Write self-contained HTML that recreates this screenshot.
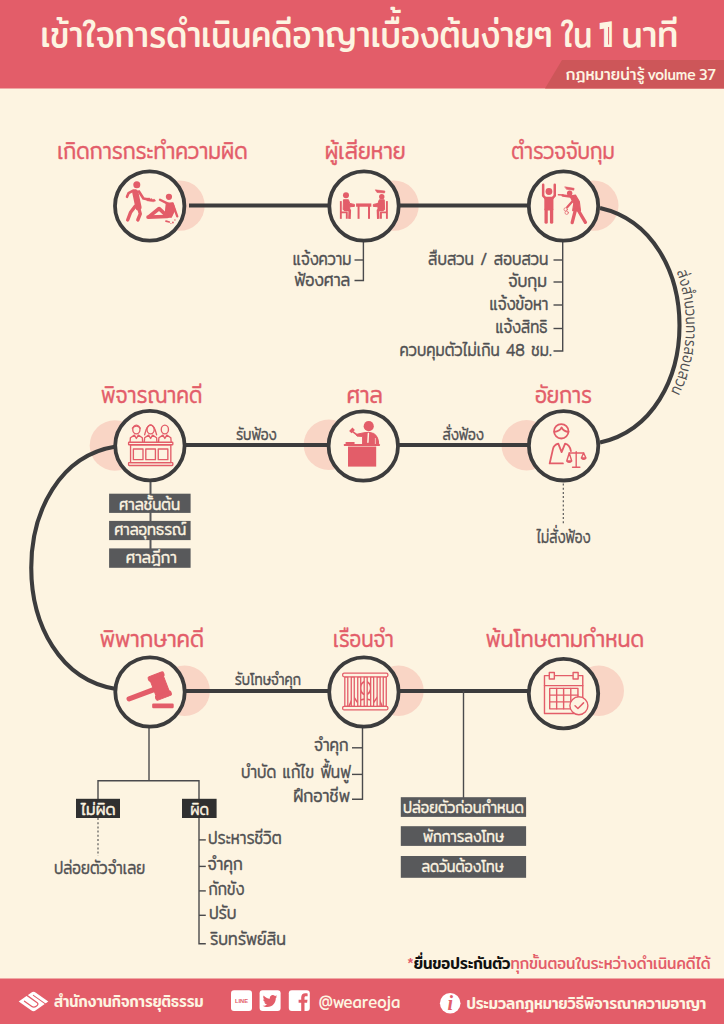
<!DOCTYPE html>
<html lang="th"><head><meta charset="utf-8"><title>เข้าใจการดำเนินคดีอาญาเบื้องต้นง่ายๆ ใน 1 นาที</title>
<style>html,body{margin:0;padding:0;background:#FDF4E1}body{width:724px;height:1024px;overflow:hidden;font-family:Mitr, Kanit, Prompt, 'Liberation Sans', 'Noto Sans Thai', sans-serif}svg{display:block}text{font-family:Mitr, Kanit, Prompt, 'Liberation Sans', 'Noto Sans Thai', sans-serif}</style>
</head><body>
<svg width="724" height="1024" viewBox="0 0 724 1024">
<rect width="724" height="1024" fill="#FDF4E1"/>
<rect width="724" height="88.5" fill="#E35D69"/>
<polygon points="562,60 724,60 724,88.5 545,88.5" fill="#CD5659"/>
<rect y="978.5" width="724" height="46" fill="#E35D69"/>
<text x="40.6" y="46.8" font-size="37.5" font-weight="400" fill="#FDF4E1" text-anchor="start" textLength="512.0" lengthAdjust="spacingAndGlyphs">เข้าใจการดำเนินคดีอาญาเบื้องต้นง่ายๆ</text>
<text x="561.4" y="46.8" font-size="37.5" font-weight="400" fill="#FDF4E1" text-anchor="start" textLength="30.8" lengthAdjust="spacingAndGlyphs">ใน</text>
<text x="621.4" y="46.8" font-size="37.5" font-weight="400" fill="#FDF4E1" text-anchor="start" textLength="57.0" lengthAdjust="spacingAndGlyphs">นาที</text>
<text x="598.7" y="47.3" font-size="38.2" font-weight="700" fill="#FDF4E1" style="font-family:Kanit,Prompt,'Liberation Sans',sans-serif" textLength="14.9" lengthAdjust="spacingAndGlyphs">1</text>
<line x1="608.6" y1="27" x2="608.6" y2="44.5" stroke="#E35D69" stroke-width="1"/>
<text x="565.8" y="79.5" font-size="15.5" font-weight="400" fill="#FDF4E1" text-anchor="start" textLength="78.8" lengthAdjust="spacingAndGlyphs">กฎหมายน่ารู้</text>
<text x="647.5" y="79.5" font-size="15.5" font-weight="400" fill="#FDF4E1" text-anchor="start" textLength="68.4" lengthAdjust="spacingAndGlyphs" word-spacing="-2.5">volume 37</text>
<circle cx="179.5" cy="205.6" r="25.2" fill="#F9D5C5"/>
<circle cx="393.6" cy="205.6" r="25.2" fill="#F9D5C5"/>
<circle cx="593.3" cy="205.6" r="25.2" fill="#F9D5C5"/>
<circle cx="114.9" cy="445.5" r="25.2" fill="#F9D5C5"/>
<circle cx="328.9" cy="444.8" r="25.2" fill="#F9D5C5"/>
<circle cx="526.7" cy="445.3" r="25.2" fill="#F9D5C5"/>
<circle cx="184.7" cy="690.8" r="25.2" fill="#F9D5C5"/>
<circle cx="398.5" cy="690.8" r="25.2" fill="#F9D5C5"/>
<circle cx="598.8" cy="690.8" r="25.2" fill="#F9D5C5"/>
<line x1="189" y1="205.5" x2="364" y2="205.5" stroke="#3C3C3D" stroke-width="4.1"/>
<line x1="364" y1="205.5" x2="563" y2="205.5" stroke="#3C3C3D" stroke-width="4.1"/>
<line x1="150" y1="445" x2="364" y2="445" stroke="#3C3C3D" stroke-width="4.1"/>
<line x1="364" y1="445" x2="563" y2="445" stroke="#3C3C3D" stroke-width="4.1"/>
<line x1="150" y1="691" x2="364" y2="691" stroke="#3C3C3D" stroke-width="4.1"/>
<line x1="364" y1="691" x2="563" y2="691" stroke="#3C3C3D" stroke-width="4.1"/>
<path id="rc" d="M600,208 C706,232 706,419 600,442.5" fill="none" stroke="#3C3C3D" stroke-width="4.1"/>
<path d="M116,446.5 C3,464 3,671.5 116,689" fill="none" stroke="#3C3C3D" stroke-width="4.1"/>
<polyline points="363.4,240 363.4,280.5 354.5,280.5" fill="none" stroke="#4A4A4C" stroke-width="1.4"/>
<polyline points="363.4,260 354.5,260" fill="none" stroke="#4A4A4C" stroke-width="1.4"/>
<polyline points="562.7,240 562.7,351 553.5,351" fill="none" stroke="#4A4A4C" stroke-width="1.4"/>
<polyline points="562.7,260 553.5,260" fill="none" stroke="#4A4A4C" stroke-width="1.4"/>
<polyline points="562.7,282 553.5,282" fill="none" stroke="#4A4A4C" stroke-width="1.4"/>
<polyline points="562.7,305 553.5,305" fill="none" stroke="#4A4A4C" stroke-width="1.4"/>
<polyline points="562.7,328.5 553.5,328.5" fill="none" stroke="#4A4A4C" stroke-width="1.4"/>
<polyline points="563.3,483.5 563.3,524" fill="none" stroke="#555" stroke-width="1.15" stroke-dasharray="2 2.2"/>
<line x1="150.5" y1="480" x2="150.5" y2="550" stroke="#58595B" stroke-width="2"/>
<polyline points="149,728 149,780.7" fill="none" stroke="#4A4A4C" stroke-width="1.4"/>
<polyline points="98,799 98,780.7 199,780.7 199,943.7 205.8,943.7" fill="none" stroke="#4A4A4C" stroke-width="1.4"/>
<polyline points="199,839.9 205.8,839.9" fill="none" stroke="#4A4A4C" stroke-width="1.4"/>
<polyline points="199,866.4 205.8,866.4" fill="none" stroke="#4A4A4C" stroke-width="1.4"/>
<polyline points="199,890.9 205.8,890.9" fill="none" stroke="#4A4A4C" stroke-width="1.4"/>
<polyline points="199,915.3 205.8,915.3" fill="none" stroke="#4A4A4C" stroke-width="1.4"/>
<polyline points="98,818 98,856" fill="none" stroke="#555" stroke-width="1.15" stroke-dasharray="2 2.2"/>
<polyline points="362.5,728 362.5,799.2 352,799.2" fill="none" stroke="#4A4A4C" stroke-width="1.4"/>
<polyline points="362.5,747.8 352,747.8" fill="none" stroke="#4A4A4C" stroke-width="1.4"/>
<polyline points="362.5,774.4 352,774.4" fill="none" stroke="#4A4A4C" stroke-width="1.4"/>
<polyline points="463.5,691 463.5,798" fill="none" stroke="#4A4A4C" stroke-width="1.4"/>
<circle cx="149.7" cy="206" r="34.7" fill="#FDF4E1" stroke="#3C3C3D" stroke-width="3.8"/>
<circle cx="364" cy="206" r="34.7" fill="#FDF4E1" stroke="#3C3C3D" stroke-width="3.8"/>
<circle cx="563.5" cy="206" r="34.7" fill="#FDF4E1" stroke="#3C3C3D" stroke-width="3.8"/>
<circle cx="149.9" cy="445.6" r="34.7" fill="#FDF4E1" stroke="#3C3C3D" stroke-width="3.8"/>
<circle cx="363.3" cy="446" r="34.7" fill="#FDF4E1" stroke="#3C3C3D" stroke-width="3.8"/>
<circle cx="563.6" cy="445.8" r="34.7" fill="#FDF4E1" stroke="#3C3C3D" stroke-width="3.8"/>
<circle cx="150" cy="692" r="34.7" fill="#FDF4E1" stroke="#3C3C3D" stroke-width="3.8"/>
<circle cx="363.9" cy="692" r="34.7" fill="#FDF4E1" stroke="#3C3C3D" stroke-width="3.8"/>
<circle cx="563.5" cy="693.6" r="34.7" fill="#FDF4E1" stroke="#3C3C3D" stroke-width="3.8"/>
<g fill="#E35D69" stroke="#E35D69" stroke-linecap="round" stroke-linejoin="round">
<circle cx="136.8" cy="184.86" r="3.5" stroke="none"/>
<polyline points="135.31,192.32 138.46,207.24" fill="none" stroke-width="6.2"/>
<polyline points="133.15,190.66 128.51,193.15 127.02,196.8" fill="none" stroke-width="2.6"/>
<polyline points="138.95,191.49 143.43,198.46 148.4,199.45" fill="none" stroke-width="2.6"/>
<polygon points="147.07,198.12 149.73,197.96 150.22,199.12 151.72,198.46 152.71,199.62 154.37,199.12 155.69,200.94 153.37,201.77 149.73,201.27 147.07,200.78" stroke-width="0.4"/>
<polyline points="135.14,206.41 130.66,212.21 127.68,220.0" fill="none" stroke-width="3.4"/>
<polyline points="138.46,207.24 140.28,213.87 137.79,220.0" fill="none" stroke-width="3.4"/>
<circle cx="168.95" cy="196.8" r="3.1" stroke="none"/>
<polygon points="166.3,203.43 172.93,202.76 174.92,209.73 171.27,217.19 164.98,217.19" stroke-width="1.2"/>
<polyline points="168.29,203.93 160.0,199.78" fill="none" stroke-width="2.4"/>
<polyline points="172.93,204.42 177.24,216.36" fill="none" stroke-width="2.3"/>
<polyline points="167.13,216.52 148.07,217.19" fill="none" stroke-width="3.7"/>
<polyline points="166.63,215.53 159.17,208.57 149.39,216.36" fill="none" stroke-width="3.7"/>
<polyline points="165.97,221.16 169.29,221.99" fill="none" stroke-width="1.7"/>
<circle cx="172.93" cy="222.49" r="0.9" stroke="none"/>
<circle cx="174.92" cy="220.0" r="0.7" stroke="none"/>
<circle cx="170.94" cy="223.48" r="0.6" stroke="none"/>
</g>
<g fill="#E35D69" stroke="#E35D69" stroke-linecap="butt" stroke-linejoin="round">
<circle cx="345.97" cy="195.31" r="3" stroke="none"/>
<polygon points="343.48,199.78 348.46,199.78 349.78,203.43 354.42,204.42 354.42,206.41 349.78,206.74 349.78,209.73 343.15,209.73" stroke-width="1" />
<polyline points="343.98,209.73 349.78,210.22 349.45,218.84" fill="none" stroke-width="2.6"/>
<polyline points="340.83,201.11 340.83,218.84" fill="none" stroke-width="1.9"/>
<polyline points="340.83,212.38 346.8,212.38 346.8,218.84" fill="none" stroke-width="1.9"/>
<circle cx="381.77" cy="196.63" r="2.7" stroke="none"/>
<polygon points="384.26,199.78 379.29,199.78 377.96,203.43 373.32,204.42 373.32,206.41 377.96,206.74 377.96,209.73 384.59,209.73" stroke-width="1" />
<polyline points="383.76,209.73 377.96,210.22 378.29,218.84" fill="none" stroke-width="2.6"/>
<polyline points="386.91,201.11 386.91,218.84" fill="none" stroke-width="1.9"/>
<polyline points="386.91,212.38 380.94,212.38 380.94,218.84" fill="none" stroke-width="1.9"/>
<polygon points="375.31,189.84 384.92,191.0 384.59,192.99 376.97,192.49" stroke-width="0.6"/>
<rect x="356.08" y="203.43" width="15.25" height="3.31" stroke="none"/>
<rect x="357.57" y="205.58" width="1.99" height="13.26" stroke="none"/>
<rect x="368.01" y="205.58" width="1.99" height="13.26" stroke="none"/>
</g>
<g fill="#E35D69" stroke="#E35D69" stroke-linecap="round" stroke-linejoin="round">
<circle cx="548.95" cy="191.49" r="3.4" stroke="none"/>
<polyline points="543.15,184.86 543.15,195.64 545.64,198.46" fill="none" stroke-width="2.5"/>
<polyline points="554.75,184.86 554.75,195.64 552.27,198.46" fill="none" stroke-width="2.5"/>
<rect x="544.31" y="196.8" width="9.12" height="13.76" rx="1.2" stroke="none"/>
<polyline points="546.13,209.73 546.13,222.16" fill="none" stroke-width="3.3"/>
<polyline points="551.6,209.73 551.6,222.16" fill="none" stroke-width="3.3"/>
<circle cx="569.67" cy="193.32" r="2.7" stroke="none"/>
<polygon points="565.03,186.85 574.15,188.34 573.82,190.17 566.69,189.34" stroke-width="0.6"/>
<polygon points="570.0,196.13 575.47,195.14 579.29,201.44 580.45,210.56 572.66,210.56 573.82,203.43" stroke-width="1.2"/>
<polyline points="572.16,196.8 562.71,195.47" fill="none" stroke-width="2.5"/>
<polyline points="563.04,194.97 558.4,194.81" fill="none" stroke-width="1.4"/>
<polyline points="573.82,199.78 567.19,207.24" fill="none" stroke-width="2.3"/>
<polyline points="575.47,209.73 572.16,222.66" fill="none" stroke-width="3.3"/>
<polyline points="577.96,209.73 585.42,222.32" fill="none" stroke-width="3.3"/>
<circle cx="565.69" cy="209.39" r="1.7" fill="none" stroke-width="0.7"/>
<circle cx="566.69" cy="212.71" r="1.7" fill="none" stroke-width="0.7"/>
</g>
<g fill="none" stroke="#E35D69" stroke-width="1.35" stroke-linejoin="round" stroke-linecap="round">
<path d="M130.06,442.07 L130.39,437.76 L134.37,435.11 L136.36,438.43 L138.35,435.11 L142.32,437.76 L142.66,442.07" fill="#FDF4E1"/>
<ellipse cx="136.36" cy="429.48" rx="3.6" ry="4.4" fill="#FDF4E1"/>
<path d="M144.31,442.07 L144.64,437.76 L148.62,435.11 L150.61,438.43 L152.6,435.11 L156.58,437.76 L156.91,442.07" fill="#FDF4E1"/>
<ellipse cx="150.61" cy="429.48" rx="3.6" ry="4.4" fill="#FDF4E1"/>
<path d="M158.57,442.07 L158.9,437.76 L162.88,435.11 L164.87,438.43 L166.86,435.11 L170.83,437.76 L171.17,442.07" fill="#FDF4E1"/>
<ellipse cx="164.87" cy="429.48" rx="3.6" ry="4.4" fill="#FDF4E1"/>
<path d="M132.38,428.15 Q136.36,424.01 140.33,428.15" />
<path d="M145.97,430.14 Q150.61,419.86 155.25,430.14 L156.58,434.78 M145.97,430.14 L144.64,434.78" />
<rect x="128.57" y="442.24" width="44.25" height="2.49" rx="0.6" fill="#FDF4E1"/>
<rect x="130.56" y="444.73" width="40.27" height="17.90" rx="0"/>
<rect x="128.57" y="462.63" width="44.25" height="2.82" rx="0.6"/>
<rect x="133.37" y="449.04" width="9.62" height="10.60" rx="0"/>
<rect x="145.8" y="449.04" width="9.62" height="10.60" rx="0"/>
<rect x="158.24" y="449.04" width="9.61" height="10.60" rx="0"/>
</g>
<g fill="#E35D69" stroke="#E35D69" stroke-linejoin="round" stroke-linecap="round">
<circle cx="368.73" cy="426.16" r="5.1" stroke="none"/>
<path d="M362.6,444.06 L362.6,436.44 L357.13,436.11 L355.97,434.45 L363.76,432.79 Q368.73,431.47 373.71,433.46 Q378.68,436.44 378.68,444.06 Z" stroke-width="1"/>
<polyline points="368.4,433.46 367.9,442.24" stroke="#FDF4E1" stroke-width="1.5" fill="none"/>
<polyline points="375.36,438.43 375.36,444.06" stroke="#FDF4E1" stroke-width="0.7" fill="none"/>
<polyline points="352.99,431.8 357.63,435.44" fill="none" stroke-width="1.7"/>
<polyline points="350.33,432.13 353.65,428.81" fill="none" stroke-width="3.4" stroke-linecap="butt"/>
<polyline points="346.36,442.9 353.82,442.9" fill="none" stroke-width="2"/>
<rect x="343.87" y="444.06" width="35.97" height="1.99" rx="0.4" stroke="none"/>
<rect x="348.01" y="446.55" width="28.18" height="20.06" rx="0" stroke="none"/>
</g>
<g fill="none" stroke="#E35D69" stroke-width="1.8" stroke-linejoin="round" stroke-linecap="round">
<circle cx="561.27" cy="431.3" r="7.2"/>
<path d="M554.31,431.8 Q559.62,431.8 561.61,427.49 Q563.76,431.8 568.57,431.8"/>
<path d="M562.93,463.46 L549.67,463.46 L552.99,448.87 Q553.82,444.73 558.29,443.57 L561.61,452.19 L565.09,443.57 Q569.89,444.73 570.89,451.03"/>
<g stroke-width="1.4"><polyline points="576.19,451.69 576.19,467.27"/><polyline points="572.55,467.27 579.84,467.27"/>
<polyline points="569.23,453.01 583.65,453.01"/>
<path d="M569.23,453.01 L566.74,460.97 L571.72,460.97 Z M566.74,460.97 Q569.23,463.79 571.72,460.97"/>
<path d="M583.65,453.01 L581.33,457.99 L585.97,457.99 Z M581.33,457.99 Q583.65,460.64 585.97,457.99"/></g>
</g>
<g fill="#E35D69" stroke="#E35D69" stroke-linejoin="round" stroke-linecap="round">
<polyline points="129.12,698.84 155.47,689.06" fill="none" stroke-width="5.2"/>
<g transform="rotate(-21 159.78 686.08)"><rect x="152.78" y="676.58" width="14" height="19" rx="1"/><rect x="151.58" y="673.58" width="16.4" height="4.6" rx="1.6"/><rect x="151.58" y="693.98" width="16.4" height="4.6" rx="1.6"/></g>
<rect x="152.16" y="703.48" width="21.55" height="4.81" rx="1.2" stroke="none"/>
</g>
<g fill="none" stroke="#E35D69" stroke-width="1.3" stroke-linejoin="round" stroke-linecap="round">
<ellipse cx="365.53" cy="688.07" rx="5.2" ry="6.4" stroke-width="1.7"/>
<path d="M348.95,706.3 L353.43,696.36 L357.24,702.16 Q365.53,695.53 373.82,702.16 L377.96,696.36 L382.1,706.3" stroke-width="1.6"/>
<rect x="344.81" y="676.8" width="2.98" height="29.50" fill="#FDF4E1"/>
<rect x="351.27" y="676.8" width="2.99" height="29.50" fill="#FDF4E1"/>
<rect x="357.74" y="676.8" width="2.98" height="29.50" fill="#FDF4E1"/>
<rect x="364.2" y="676.8" width="2.99" height="29.50" fill="#FDF4E1"/>
<rect x="370.67" y="676.8" width="2.98" height="29.50" fill="#FDF4E1"/>
<rect x="377.13" y="676.8" width="2.98" height="29.50" fill="#FDF4E1"/>
<rect x="383.26" y="676.8" width="2.99" height="29.50" fill="#FDF4E1"/>
<rect x="342.65" y="673.15" width="45.25" height="3.65" rx="1.5" fill="#FDF4E1"/>
<rect x="342.65" y="706.3" width="45.25" height="3.65" rx="1.5" fill="#FDF4E1"/>
</g>
<g fill="none" stroke="#E35D69" stroke-width="1.4" stroke-linejoin="round" stroke-linecap="round">
<rect x="544.48" y="675.58" width="38.29" height="37.91" rx="0"/>
<line x1="544.48" y1="685.64" x2="582.77" y2="685.64"/>
<rect x="549.31" y="672.49" width="5.03" height="6.57" rx="0" fill="#FDF4E1"/>
<rect x="573.1" y="672.49" width="5.03" height="6.57" rx="0" fill="#FDF4E1"/>
<rect x="549.7" y="688.35" width="28.23" height="20.50" rx="0"/>
<line x1="556.66" y1="688.35" x2="556.66" y2="708.85"/>
<line x1="563.62" y1="688.35" x2="563.62" y2="708.85"/>
<line x1="570.78" y1="688.35" x2="570.78" y2="708.85"/>
<line x1="549.7" y1="695.12" x2="577.93" y2="695.12"/>
<line x1="549.7" y1="701.88" x2="577.93" y2="701.88"/>
<circle cx="578.9" cy="705.75" r="9" fill="#FDF4E1"/>
<polyline points="575.03,705.75 577.93,708.46 583.54,702.85" stroke-width="1.5"/>
</g>
<text x="57.2" y="159.2" font-size="23" font-weight="300" fill="#E35D69" text-anchor="start" textLength="190.4" lengthAdjust="spacingAndGlyphs" stroke="#E35D69" stroke-width="0.4" stroke-linejoin="round">เกิดการกระทำความผิด</text>
<text x="324.8" y="159.2" font-size="23" font-weight="300" fill="#E35D69" text-anchor="start" textLength="80.9" lengthAdjust="spacingAndGlyphs" stroke="#E35D69" stroke-width="0.4" stroke-linejoin="round">ผู้เสียหาย</text>
<text x="511.3" y="159.2" font-size="23" font-weight="300" fill="#E35D69" text-anchor="start" textLength="103.4" lengthAdjust="spacingAndGlyphs" stroke="#E35D69" stroke-width="0.4" stroke-linejoin="round">ตำรวจจับกุม</text>
<text x="101.0" y="403.4" font-size="23" font-weight="300" fill="#E35D69" text-anchor="start" textLength="101.4" lengthAdjust="spacingAndGlyphs" stroke="#E35D69" stroke-width="0.4" stroke-linejoin="round">พิจารณาคดี</text>
<text x="346.4" y="403.2" font-size="23" font-weight="300" fill="#E35D69" text-anchor="start" textLength="36.4" lengthAdjust="spacingAndGlyphs" stroke="#E35D69" stroke-width="0.4" stroke-linejoin="round">ศาล</text>
<text x="534.9" y="403.2" font-size="23" font-weight="300" fill="#E35D69" text-anchor="start" textLength="57.1" lengthAdjust="spacingAndGlyphs" stroke="#E35D69" stroke-width="0.4" stroke-linejoin="round">อัยการ</text>
<text x="99.7" y="647.4" font-size="23" font-weight="300" fill="#E35D69" text-anchor="start" textLength="104.4" lengthAdjust="spacingAndGlyphs" stroke="#E35D69" stroke-width="0.4" stroke-linejoin="round">พิพากษาคดี</text>
<text x="333.1" y="647.0" font-size="23" font-weight="300" fill="#E35D69" text-anchor="start" textLength="60.7" lengthAdjust="spacingAndGlyphs" stroke="#E35D69" stroke-width="0.4" stroke-linejoin="round">เรือนจำ</text>
<text x="485.7" y="647.0" font-size="23" font-weight="300" fill="#E35D69" text-anchor="start" textLength="158.4" lengthAdjust="spacingAndGlyphs" stroke="#E35D69" stroke-width="0.4" stroke-linejoin="round">พ้นโทษตามกำหนด</text>
<text x="351.5" y="264.6" font-size="17.5" font-weight="300" fill="#505052" text-anchor="end" textLength="58.7" lengthAdjust="spacingAndGlyphs" stroke="#505052" stroke-width="0.4" stroke-linejoin="round">แจ้งความ</text>
<text x="350.3" y="285.5" font-size="17.5" font-weight="300" fill="#505052" text-anchor="end" textLength="56.1" lengthAdjust="spacingAndGlyphs" stroke="#505052" stroke-width="0.4" stroke-linejoin="round">ฟ้องศาล</text>
<text x="548.4" y="264.6" font-size="17.5" font-weight="300" fill="#505052" text-anchor="end" textLength="120.4" lengthAdjust="spacingAndGlyphs" stroke="#505052" stroke-width="0.4" stroke-linejoin="round">สืบสวน / สอบสวน</text>
<text x="547.0" y="286.5" font-size="17.5" font-weight="300" fill="#505052" text-anchor="end" textLength="38.8" lengthAdjust="spacingAndGlyphs" stroke="#505052" stroke-width="0.4" stroke-linejoin="round">จับกุม</text>
<text x="548.4" y="309.7" font-size="17.5" font-weight="300" fill="#505052" text-anchor="end" textLength="58.9" lengthAdjust="spacingAndGlyphs" stroke="#505052" stroke-width="0.4" stroke-linejoin="round">แจ้งข้อหา</text>
<text x="547.5" y="333.0" font-size="17.5" font-weight="300" fill="#505052" text-anchor="end" textLength="52.1" lengthAdjust="spacingAndGlyphs" stroke="#505052" stroke-width="0.4" stroke-linejoin="round">แจ้งสิทธิ</text>
<text x="551.7" y="355.5" font-size="17.5" font-weight="300" fill="#505052" text-anchor="end" textLength="152.1" lengthAdjust="spacingAndGlyphs" stroke="#505052" stroke-width="0.4" stroke-linejoin="round">ควบคุมตัวไม่เกิน 48 ชม.</text>
<text x="235.9" y="439.8" font-size="15.5" font-weight="300" fill="#505052" text-anchor="start" textLength="40.7" lengthAdjust="spacingAndGlyphs" stroke="#505052" stroke-width="0.4" stroke-linejoin="round">รับฟ้อง</text>
<text x="442.4" y="440.2" font-size="15.5" font-weight="300" fill="#505052" text-anchor="start" textLength="41.5" lengthAdjust="spacingAndGlyphs" stroke="#505052" stroke-width="0.4" stroke-linejoin="round">สั่งฟ้อง</text>
<text x="234.7" y="684.6" font-size="15.5" font-weight="300" fill="#505052" text-anchor="start" textLength="66.3" lengthAdjust="spacingAndGlyphs" stroke="#505052" stroke-width="0.4" stroke-linejoin="round">รับโทษจำคุก</text>
<text x="536.5" y="543.0" font-size="17.5" font-weight="300" fill="#505052" text-anchor="start" textLength="53.9" lengthAdjust="spacingAndGlyphs" stroke="#505052" stroke-width="0.4" stroke-linejoin="round">ไม่สั่งฟ้อง</text>
<text font-size="16.5" font-weight="300" fill="#505052" dy="-6.5"><textPath href="#rc" startOffset="100.5" textLength="119" lengthAdjust="spacingAndGlyphs">ส่งสำนวนการสอบสวน</textPath></text>
<rect x="109.1" y="493.7" width="81.5" height="19.2" fill="#58595B"/>
<rect x="109.1" y="520.9" width="81.5" height="19.2" fill="#58595B"/>
<rect x="109.1" y="548.4" width="81.5" height="19.4" fill="#58595B"/>
<text x="119.1" y="509.8" font-size="15.5" font-weight="300" fill="#FDF4E1" text-anchor="start" textLength="61.0" lengthAdjust="spacingAndGlyphs" stroke="#FDF4E1" stroke-width="0.4" stroke-linejoin="round">ศาลชั้นต้น</text>
<text x="114.2" y="534.7" font-size="15.5" font-weight="300" fill="#FDF4E1" text-anchor="start" textLength="72.0" lengthAdjust="spacingAndGlyphs" stroke="#FDF4E1" stroke-width="0.4" stroke-linejoin="round">ศาลอุทธรณ์</text>
<text x="125.8" y="562.9" font-size="15.5" font-weight="300" fill="#FDF4E1" text-anchor="start" textLength="51.0" lengthAdjust="spacingAndGlyphs" stroke="#FDF4E1" stroke-width="0.4" stroke-linejoin="round">ศาลฎีกา</text>
<rect x="76" y="798.8" width="44" height="19.2" fill="#303030"/>
<rect x="182" y="798.8" width="34.6" height="19.2" fill="#303030"/>
<text x="80.8" y="814.5" font-size="15.5" font-weight="300" fill="#FDF4E1" text-anchor="start" textLength="34.8" lengthAdjust="spacingAndGlyphs" stroke="#FDF4E1" stroke-width="0.4" stroke-linejoin="round">ไม่ผิด</text>
<text x="190.3" y="814.5" font-size="15.5" font-weight="300" fill="#FDF4E1" text-anchor="start" textLength="18.8" lengthAdjust="spacingAndGlyphs" stroke="#FDF4E1" stroke-width="0.4" stroke-linejoin="round">ผิด</text>
<text x="54.0" y="873.5" font-size="17.5" font-weight="300" fill="#505052" text-anchor="start" textLength="91.2" lengthAdjust="spacingAndGlyphs" stroke="#505052" stroke-width="0.4" stroke-linejoin="round">ปล่อยตัวจำเลย</text>
<text x="208.0" y="843.6" font-size="17.5" font-weight="300" fill="#505052" text-anchor="start" textLength="73.6" lengthAdjust="spacingAndGlyphs" stroke="#505052" stroke-width="0.4" stroke-linejoin="round">ประหารชีวิต</text>
<text x="207.4" y="870.3" font-size="17.5" font-weight="300" fill="#505052" text-anchor="start" textLength="35.3" lengthAdjust="spacingAndGlyphs" stroke="#505052" stroke-width="0.4" stroke-linejoin="round">จำคุก</text>
<text x="208.6" y="895.4" font-size="17.5" font-weight="300" fill="#505052" text-anchor="start" textLength="35.7" lengthAdjust="spacingAndGlyphs" stroke="#505052" stroke-width="0.4" stroke-linejoin="round">กักขัง</text>
<text x="208.9" y="919.2" font-size="17.5" font-weight="300" fill="#505052" text-anchor="start" textLength="27.7" lengthAdjust="spacingAndGlyphs" stroke="#505052" stroke-width="0.4" stroke-linejoin="round">ปรับ</text>
<text x="209.9" y="944.7" font-size="17.5" font-weight="300" fill="#505052" text-anchor="start" textLength="76.0" lengthAdjust="spacingAndGlyphs" stroke="#505052" stroke-width="0.4" stroke-linejoin="round">ริบทรัพย์สิน</text>
<text x="348.5" y="751.4" font-size="17.5" font-weight="300" fill="#505052" text-anchor="end" textLength="34.5" lengthAdjust="spacingAndGlyphs" stroke="#505052" stroke-width="0.4" stroke-linejoin="round">จำคุก</text>
<text x="350.6" y="777.5" font-size="17.5" font-weight="300" fill="#505052" text-anchor="end" textLength="109.6" lengthAdjust="spacingAndGlyphs" stroke="#505052" stroke-width="0.4" stroke-linejoin="round">บำบัด แก้ไข ฟื้นฟู</text>
<text x="350.0" y="802.0" font-size="17.5" font-weight="300" fill="#505052" text-anchor="end" textLength="56.8" lengthAdjust="spacingAndGlyphs" stroke="#505052" stroke-width="0.4" stroke-linejoin="round">ฝึกอาชีพ</text>
<rect x="400.8" y="797.2" width="125.3" height="19.7" fill="#58595B"/>
<rect x="400.8" y="826.2" width="125.3" height="19.7" fill="#58595B"/>
<rect x="400.8" y="856" width="125.3" height="21.8" fill="#58595B"/>
<text x="403.0" y="812.7" font-size="15.5" font-weight="300" fill="#FDF4E1" text-anchor="start" textLength="120.8" lengthAdjust="spacingAndGlyphs" stroke="#FDF4E1" stroke-width="0.4" stroke-linejoin="round">ปล่อยตัวก่อนกำหนด</text>
<text x="422.9" y="841.7" font-size="15.5" font-weight="300" fill="#FDF4E1" text-anchor="start" textLength="81.2" lengthAdjust="spacingAndGlyphs" stroke="#FDF4E1" stroke-width="0.4" stroke-linejoin="round">พักการลงโทษ</text>
<text x="421.4" y="871.8" font-size="15.5" font-weight="300" fill="#FDF4E1" text-anchor="start" textLength="82.3" lengthAdjust="spacingAndGlyphs" stroke="#FDF4E1" stroke-width="0.4" stroke-linejoin="round">ลดวันต้องโทษ</text>
<text x="710.7" y="969" font-size="15.5" text-anchor="end" textLength="303.5" lengthAdjust="spacingAndGlyphs"><tspan fill="#E35D69" font-weight="400">*</tspan><tspan fill="#111" font-weight="500">ยื่นขอประกันตัว</tspan><tspan fill="#E35D69" font-weight="400">ทุกขั้นตอนในระหว่างดำเนินคดีได้</tspan></text>
<text x="54.0" y="1006.7" font-size="16.5" font-weight="500" fill="#FDF4E1" text-anchor="start" textLength="149.6" lengthAdjust="spacingAndGlyphs">สำนักงานกิจการยุติธรรม</text>
<text x="318.7" y="1007.6" font-size="17" font-weight="400" fill="#FDF4E1" text-anchor="start" textLength="81.6" lengthAdjust="spacingAndGlyphs">@weareoja</text>
<text x="466.4" y="1008.5" font-size="16.5" font-weight="500" fill="#FDF4E1" text-anchor="start" textLength="239.9" lengthAdjust="spacingAndGlyphs">ประมวลกฎหมายวิธีพิจารณาความอาญา</text>
<path d="M18.70,1001.50 L31.13,992.68 Q33.50,991.00 35.87,992.68 L48.30,1001.50 L35.87,1010.32 Q33.50,1012.00 31.13,1010.32 Z" fill="#FFFFFF"/>
<g fill="none" stroke="#E35D69" stroke-linecap="round" stroke-linejoin="round">
<path d="M33.35,995.31 L46.08,1004.34" stroke-width="1.05"/>
<path d="M26.25,994.88 L37.20,1002.65 C39.86,1004.54 34.54,1008.32 31.87,1006.43 L24.47,1001.18" stroke-width="1.25"/>
</g>
<rect x="231" y="990.2" width="21" height="20.8" rx="3" fill="#FFFFFF"/>
<rect x="259.6" y="990.2" width="21" height="20.8" rx="3" fill="#FFFFFF"/>
<rect x="288.8" y="990.2" width="21" height="20.8" rx="3" fill="#FFFFFF"/>
<text x="241.5" y="1002.6" font-size="5" font-weight="700" fill="#E35D69" text-anchor="middle" style="font-family:'Liberation Sans',sans-serif" textLength="13" lengthAdjust="spacingAndGlyphs">LINE</text>
<path transform="translate(262.6,993.6) scale(0.625)" fill="#E35D69" d="M23.6 4.6c-.9.4-1.8.6-2.8.8 1-.6 1.8-1.600 2.100-2.700-.900.600-2 .900-3.100 1.200-.900-.900-2.200-1.500-3.500-1.500-2.700 0-4.800 2.200-4.800 4.800 0 .400 0 .800.100 1.100C7.700 8.100 4.100 6.100 1.700 3.200c-.400.700-.700 1.500-.700 2.400 0 1.700.900 3.100 2.100 4-.800 0-1.500-.200-2.200-.600v.100c0 2.300 1.700 4.300 3.900 4.700-.400.100-.800.200-1.300.200-.300 0-.600 0-.900-.100.600 1.900 2.400 3.300 4.500 3.400-1.700 1.300-3.700 2.100-6 2.100-.400 0-.800 0-1.100-.100 2.100 1.400 4.700 2.200 7.400 2.200 8.800 0 13.700-7.300 13.700-13.700v-.600c.900-.700 1.700-1.500 2.400-2.500z"/>
<path fill="#E35D69" d="M301.2,1011 v-8.300 h-2.600 v-3 h2.600 v-2.100 c0,-2.800 1.600,-4.300 4.100,-4.300 c1,0 1.900,0.100 2.300,0.200 v2.700 h-1.500 c-1.300,0 -1.600,0.700 -1.600,1.600 v1.900 h3 l-0.400,3 h-2.600 v8.300 z"/>
<circle cx="450.2" cy="1003.2" r="10.3" fill="#FFFFFF"/>
<text x="450.4" y="1010" font-size="20" font-weight="700" font-style="italic" fill="#E35D69" text-anchor="middle" style="font-family:'Liberation Serif',serif">i</text>
</svg></body></html>
